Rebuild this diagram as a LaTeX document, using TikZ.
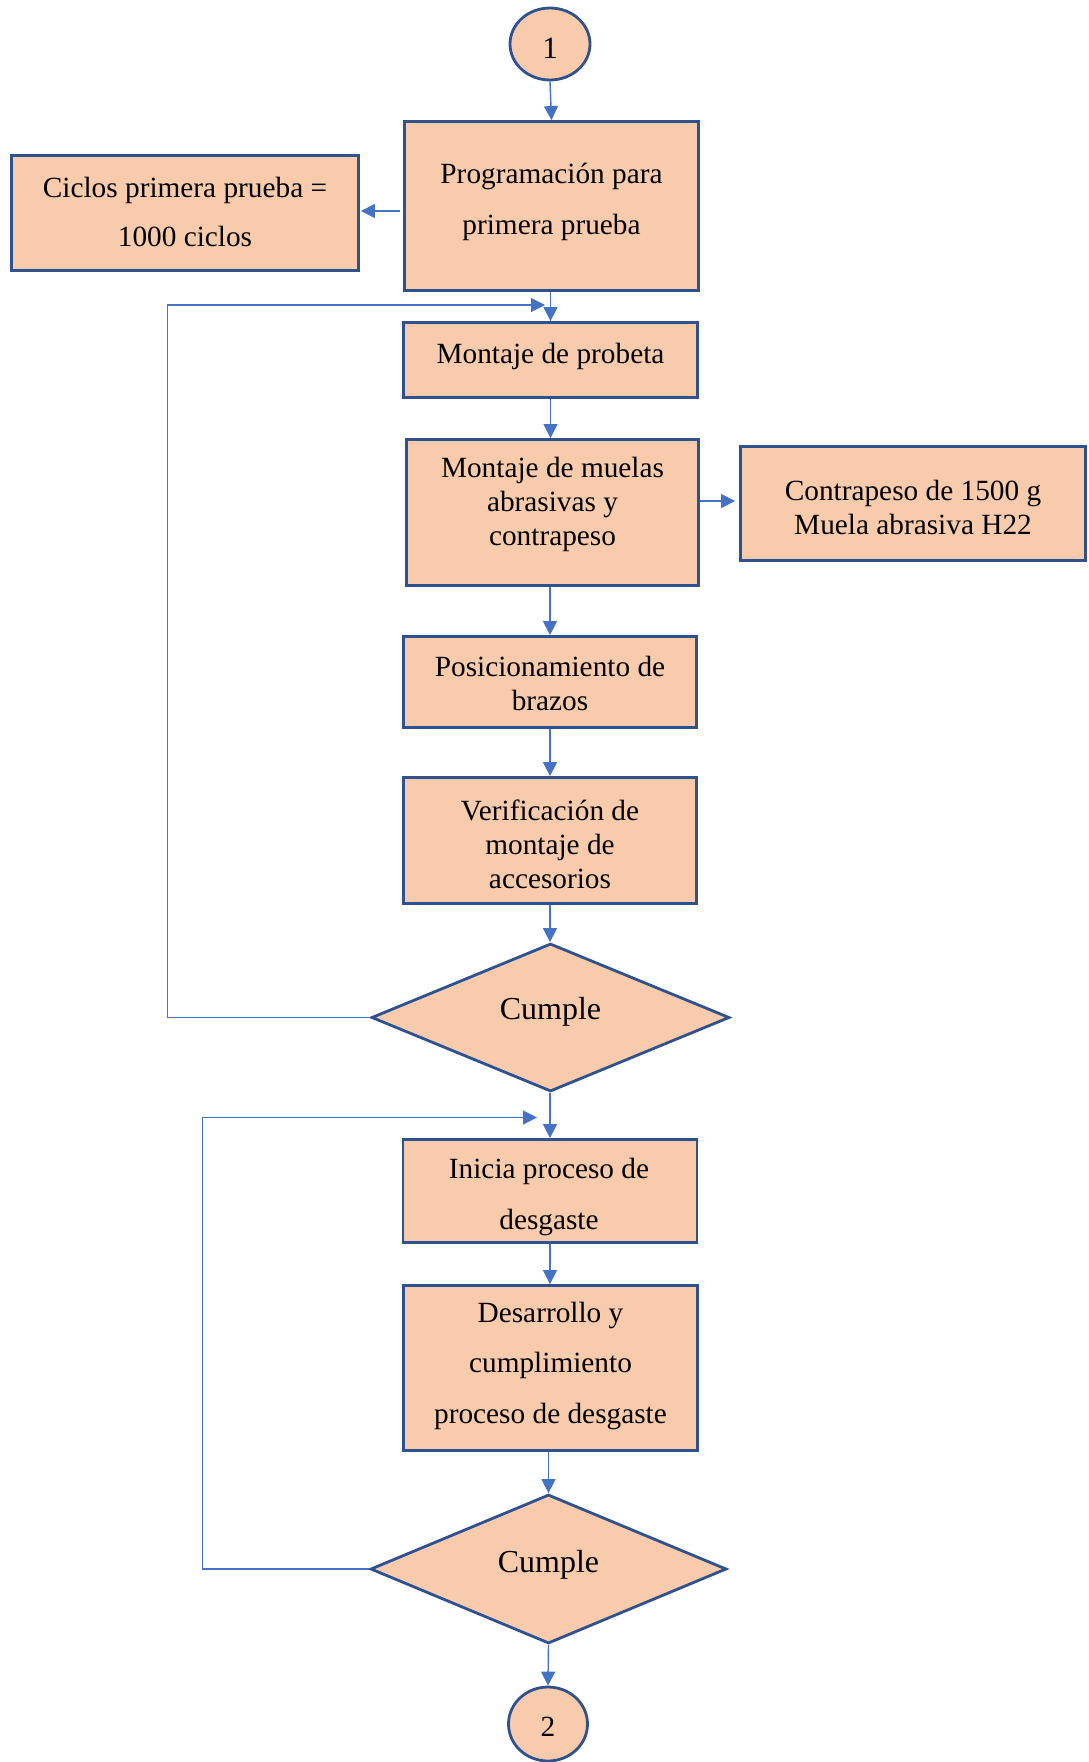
\documentclass[tikz,border=0pt]{standalone}
\usepackage{fontspec}
\setmainfont{Liberation Serif}
\usetikzlibrary{shapes.geometric,arrows.meta,calc}
\definecolor{peach}{HTML}{F8CBAD}
\definecolor{edgeblue}{HTML}{2F528F}
\definecolor{connblue}{HTML}{4472C4}
\tikzset{
  shp/.style={draw=edgeblue, fill=peach, line width=2.8pt, inner sep=0pt},
  boxshape/.style={shp, rectangle},
  decision/.style={shp, diamond},
  connector/.style={shp, ellipse},
  txt/.style={font=\fontsize{29.3}{34}\selectfont, align=center, inner sep=0pt, text=black},
  bigtxt/.style={txt, font=\fontsize{32}{38}\selectfont},
  arr/.style={draw=connblue, line width=1.4pt, -{Triangle[width=14pt,length=14pt]}},
  loopline/.style={draw=connblue, line width=1.1pt, -{Triangle[width=14pt,length=14pt]}}
}
\begin{document}
\begin{tikzpicture}[x=1pt,y=1pt]
\useasboundingbox (0,0) rectangle (1088,-1762);
% shapes
\node[connector, minimum width=80, minimum height=72] (c1) at (550,-44) {};
\node[boxshape, minimum width=294, minimum height=169] (prog) at (551.5,-206) {};
\node[boxshape, minimum width=347, minimum height=115] (ciclos) at (185,-213) {};
\node[boxshape, minimum width=294, minimum height=75] (probeta) at (550.5,-360) {};
\node[boxshape, minimum width=292, minimum height=146] (muelas) at (552.5,-512.5) {};
\node[boxshape, minimum width=345, minimum height=114] (contra) at (913,-503.5) {};
\node[boxshape, minimum width=293, minimum height=91] (posic) at (550,-682) {};
\node[boxshape, minimum width=293, minimum height=126] (verif) at (550,-840.5) {};
\node[decision, minimum width=358, minimum height=148] (cum1) at (550.5,-1017.5) {};
\node[boxshape, minimum width=294, minimum height=103] (inicia) at (550,-1191) {};
\node[boxshape, minimum width=294, minimum height=165] (desa) at (550.5,-1368) {};
\node[decision, minimum width=356, minimum height=149] (cum2) at (548.5,-1569) {};
\node[connector, minimum width=79, minimum height=74] (c2) at (548,-1724) {};
% texts
\node[txt, font=\fontsize{31}{36}\selectfont] (t1) at (550,-48) {1};
\node[txt] (tprog) at (551.5,-201.5) {Programación para\\[17pt]primera prueba};
\node[txt] (tciclos) at (185,-211.5) {Ciclos primera prueba =\\[15pt]1000 ciclos};
\node[txt] (tprobeta) at (550.5,-356) {Montaje de probeta};
\node[txt] (tmuelas) at (552.5,-504) {Montaje de muelas\\abrasivas y\\contrapeso};
\node[txt] (tcontra) at (913,-507) {Contrapeso de 1500 g\\Muela abrasiva H22};
\node[txt] (tposic) at (550,-683.5) {Posicionamiento de\\brazos};
\node[txt] (tverif) at (550,-844) {Verificación de\\montaje de\\accesorios};
\node[bigtxt] (tcum1) at (550.5,-1012) {Cumple};
\node[txt] (tinicia) at (549,-1196.5) {Inicia proceso de\\[17pt]desgaste};
\node[txt] (tdesa) at (550.5,-1365.5) {Desarrollo y\\[16.5pt]cumplimiento\\[16.5pt]proceso de desgaste};
\node[bigtxt] (tcum2) at (548.5,-1565) {Cumple};
\node[txt] (t2) at (548,-1727) {2};
% connectors
\draw[arr] (c1.south) -- (prog.north);
\draw[arr, shorten <=3pt, shorten >=1pt] (prog.west) ++(0,-5) coordinate (pw) -- (pw -| ciclos.east);
\draw[arr] (prog.south) ++(-1,0) coordinate (ps) -- (ps |- probeta.north);
\draw[arr] (probeta.south) -- (probeta.south |- muelas.north);
\draw[arr] (muelas.east |- 0,-501) coordinate (me) -- ($(me -| contra.west)+(-4,0)$) coordinate (ce);
\draw[arr] (posic.north |- muelas.south) -- (posic.north);
\draw[arr] (posic.south) -- (verif.north);
\draw[arr] (verif.south) -- (verif.south |- cum1.north);
\draw[arr] (inicia.north |- cum1.south) -- (inicia.north);
\draw[arr] (inicia.south) -- (inicia.south |- desa.north);
\draw[arr] (cum2.north |- desa.south) -- (cum2.north);
\draw[arr] (cum2.south) -- (c2.north);
% loops
\coordinate (l1) at (167.5,-1017.5);
\coordinate (j1) at (545,-305);
\draw[loopline] (cum1.west) -- (l1) |- (j1);
\coordinate (l2) at (202.5,-1569);
\coordinate (j2) at (537,-1117.5);
\draw[loopline] (cum2.west) -- (l2) |- (j2);
\end{tikzpicture}
\end{document}
